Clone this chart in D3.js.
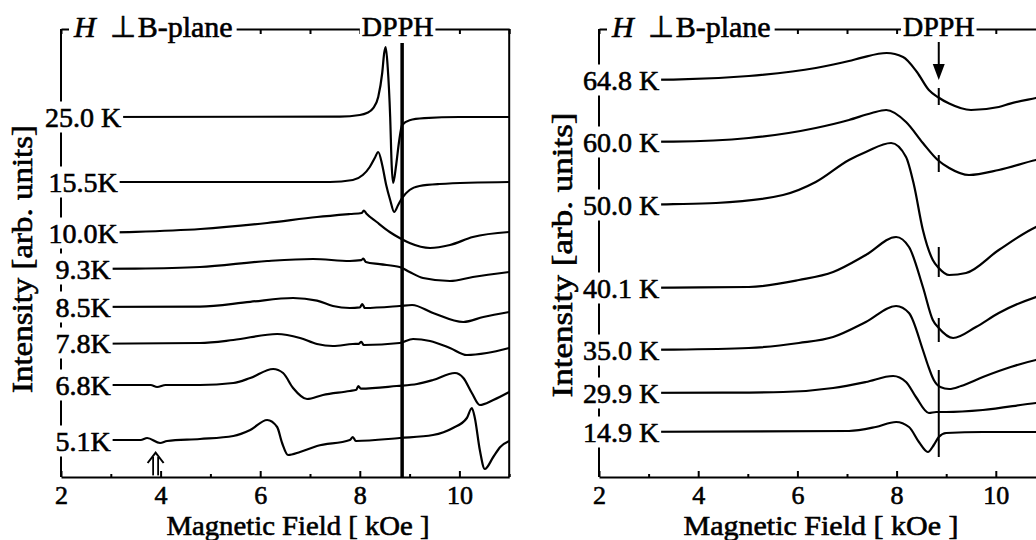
<!DOCTYPE html>
<html lang="en">
<head>
<meta charset="UTF-8">
<title>ESR spectra, H perpendicular to B-plane</title>
<script src="https://d3js.org/d3.v7.min.js"></script>
<style>
  body { margin: 0; background: #fff; }
  svg { display: block; }
  .trace { fill: none; stroke: #000; stroke-width: 2.2; stroke-linejoin: round; }
  .axis path, .axis line { stroke: #000; stroke-width: 2; }
  text { font-family: "Liberation Serif", "Times New Roman", serif; fill: #000; stroke: #000; stroke-width: 0.6; }
</style>
</head>
<body>
<svg width="1036" height="540"></svg>
<script>
// field axis (kOe)
const fieldDomain = [2, 11];
const fieldTicks = [2, 4, 6, 8, 10];
const dpphField = 8.85;

// left panel: temperatures, baseline levels (arb. units) and spectra [field, offset]
const leftTemps = ["25.0 K", "15.5K", "10.0K", "9.3K", "8.5K", "7.8K", "6.8K", "5.1K"];
const leftBaselines = [90, 73.75, 61, 52, 42.5, 33.5, 23, 9];

const s25_0 = [[2,0],[7.6,0.1],[8.0,0.5],[8.14,1],[8.27,2.2],[8.37,5],[8.45,11],[8.49,16],[8.52,17.5],[8.56,12.5],[8.61,0],[8.64,-12],[8.67,-16.5],[8.73,-12],[8.79,-6],[8.85,-2],[9.0,-0.8],[9.3,-0.3],[10,0],[11,0]];
const s15_5 = [[2,0],[7.4,0],[7.86,0.5],[8.06,1.75],[8.2,3.75],[8.3,6],[8.37,7.5],[8.45,4.25],[8.53,-0.75],[8.61,-4.5],[8.69,-7.5],[8.77,-5.75],[8.85,-4],[9.0,-2],[9.2,-1],[9.6,-0.5],[11,0]];
const s10_0 = [[2,0],[3.5,0.3],[4.8,1],[6.14,2.5],[7.14,4],[7.8,4.75],[8.04,5],[8.08,5.6],[8.13,4.9],[8.34,2.75],[8.6,0.25],[8.8,-1.25],[9.0,-2.5],[9.41,-3.75],[9.81,-3],[10.27,-1],[11,0.25]];
const s9_3 = [[2,0],[3.5,0.1],[4.79,0.5],[6.14,2],[7.06,2.5],[7.8,2],[8.03,2.2],[8.07,2.6],[8.12,1.75],[8.4,1.2],[8.8,0.5],[9.0,-0.75],[9.27,-2.25],[9.81,-3],[10.27,-2],[11,-0.75]];
const s8_5 = [[2,0],[4.79,0.1],[5.8,1.3],[6.66,2.25],[7.14,1.6],[7.46,0.25],[7.8,-0.25],[8.0,-0.1],[8.05,0.75],[8.1,-0.25],[8.8,0.25],[9.05,0.5],[9.47,-1.5],[10.08,-3.75],[10.48,-2.5],[11,-1.25]];
const s7_8 = [[2,-0.25],[4.79,0],[5.46,0.75],[6.34,2.25],[6.8,1.25],[7.14,-0.25],[7.46,-0.75],[7.86,-0.25],[7.98,-0.2],[8.03,0.3],[8.08,-0.5],[8.8,0],[9.07,1],[9.41,0.5],[9.81,-1.25],[10.15,-3],[10.55,-2.5],[11,-1.25]];
const s6_8 = [[2,0],[3.8,0],[3.93,-0.5],[4.1,0],[4.79,0],[5.46,0.5],[5.8,1.75],[6.26,4],[6.46,3],[6.66,-0.75],[6.94,-3.5],[7.26,-2.5],[7.8,-1.5],[7.93,-1.2],[7.97,-0.25],[8.02,-0.9],[8.74,-0.25],[9.15,0.25],[9.47,1.25],[9.91,3],[10.08,1.75],[10.25,-2],[10.41,-5],[10.68,-3.75],[11,-1.75]];
const s5_1 = [[2,0.25],[3.6,0.25],[3.73,0.75],[3.99,-0.5],[4.13,0],[4.79,0.5],[5.46,1.25],[5.8,2.75],[6.14,5.25],[6.34,3.5],[6.44,-0.5],[6.56,-3.5],[6.8,-2.75],[7.14,-1.25],[7.8,0.25],[7.86,1],[7.92,0],[8.8,0.75],[9.47,1.5],[9.87,3.25],[10.15,5.75],[10.25,8.25],[10.31,5.75],[10.41,-2.25],[10.51,-7],[10.68,-4],[10.82,-1.5],[11,0]];
const leftSpectra = [s25_0, s15_5, s10_0, s9_3, s8_5, s7_8, s6_8, s5_1];

// right panel
const rightTemps = ["64.8 K", "60.0 K", "50.0 K", "40.1 K", "35.0 K", "29.9 K", "14.9 K"];
const rightBaselines = [99.25, 83.75, 68, 47.25, 31.75, 21, 11.25];

const s64_8 = [[2,0],[3.5,0.1],[5.02,1],[6.37,3],[7.04,4.75],[7.3,5.6],[7.8,6.75],[8.13,5.75],[8.41,2],[8.65,-2.5],[8.83,-4.25],[9.06,-5.9],[9.5,-7.5],[10.06,-6.75],[10.29,-5.9],[10.81,-4.5],[11,-4]];
const s60_0 = [[2,0],[3.5,0.1],[5.02,1],[6.37,3.5],[7.04,5.5],[7.5,7.25],[7.79,8],[8.19,5],[8.53,-0.25],[8.83,-4.5],[9.06,-6.5],[9.46,-8.25],[10.06,-7],[10.81,-4.5],[11,-4]];
const s50_0 = [[2,0],[3.5,0.2],[4.36,0.5],[5.71,2.5],[6.37,5.75],[7.04,11.25],[7.38,13.25],[7.89,15.5],[8.19,12],[8.35,5],[8.53,-6.25],[8.73,-13.75],[8.85,-15.75],[9.06,-17.5],[9.4,-17],[10.06,-11.25],[10.81,-5.5],[11,-4.5]];
const s40_1 = [[2,0],[3.5,0.1],[5.02,0.25],[6.03,2],[6.72,4],[7.38,8.25],[7.99,12.75],[8.25,10.25],[8.53,0.25],[8.73,-8],[8.85,-10],[9.14,-12.5],[9.6,-9.75],[10.06,-6.25],[10.81,-2.25],[11,-1.5]];
const s35_0 = [[2,0],[3.5,0.1],[5.02,0.5],[6.03,1.75],[6.72,3.25],[7.38,7],[7.99,11],[8.25,9.25],[8.53,0],[8.63,-3.75],[8.75,-7.5],[8.88,-9.25],[9.06,-9.75],[9.3,-9],[9.74,-6.75],[10.3,-4.25],[10.81,-2.5],[11,-2]];
const s29_9 = [[2,0],[4.5,0.1],[5.71,0.25],[6.72,1.25],[7.38,2.75],[7.93,4.25],[8.19,2.75],[8.39,-1],[8.65,-5],[8.8,-4.75],[9.0,-4.75],[9.74,-4.25],[10.81,-2.5],[11,-2.25]];
const s14_9 = [[2,0],[7.04,0.25],[7.58,1.25],[7.99,2.5],[8.25,1.25],[8.45,-2.5],[8.63,-5],[8.75,-3.25],[8.85,-1.25],[9.0,-0.25],[9.74,0],[11,0]];
const rightSpectra = [s64_8, s60_0, s50_0, s40_1, s35_0, s29_9, s14_9];

// DPPH markers in the right panel: [top, bottom] in arb. units
const dpphMarks = [[97.25, 93], [80.5, 76.25], [57.5, 50], [39.75, 33.75], [26.75, 5]];
const dpphArrow = [108.75, 99.25];
// open arrow under the 5.1K trace
const lowFieldArrow = 3.9;

const svg = d3.select("svg");
const y = d3.scaleLinear().domain([0, 112]).range([477, 29]);

function drawPanel(p) {
  const x = d3.scaleLinear().domain(fieldDomain).range(p.xRange);
  const g = svg.append("g");
  const allTicks = d3.range(2, 12);

  // bottom axis, ticks inward
  const bottom = g.append("g").attr("class", "axis")
    .attr("transform", `translate(0,${y(0)})`)
    .call(d3.axisBottom(x).tickValues(allTicks).tickSize(-6).tickSizeOuter(0).tickPadding(9)
      .tickFormat(d => fieldTicks.includes(d) ? d : ""));
  bottom.attr("font-family", null).attr("font-size", null);
  bottom.selectAll(".tick text").attr("font-size", 26);
  bottom.selectAll(".tick line").filter(d => d % 2 === 1).attr("y2", -3);

  // top frame
  g.append("g").attr("class", "axis")
    .attr("transform", `translate(0,${y(112)})`)
    .call(d3.axisTop(x).tickValues(allTicks).tickSize(-5).tickSizeOuter(0).tickFormat(""));

  // left and right frame lines
  g.append("line").attr("x1", x(2)).attr("x2", x(2)).attr("y1", y(112)).attr("y2", y(0))
    .attr("stroke", "#000").attr("stroke-width", 2);
  g.append("line").attr("x1", x(11)).attr("x2", x(11)).attr("y1", y(112)).attr("y2", y(0))
    .attr("stroke", "#000").attr("stroke-width", 2);

  // spectra
  p.spectra.forEach((s, i) => {
    const line = d3.line()
      .x(d => x(d[0]))
      .y(d => y(p.baselines[i] + d[1]))
      .curve(d3.curveMonotoneX);
    g.append("path").attr("class", "trace").attr("d", line(s));
  });

  p.extra(g, x);

  // temperature labels with white backing (breaks the left axis)
  p.temps.forEach((t, i) => {
    const lab = g.append("g");
    const txt = lab.append("text")
      .attr("x", x(2) + 22).attr("y", y(p.baselines[i]) + 9.5)
      .attr("text-anchor", "middle").attr("font-size", 28).text(t);
    const b = txt.node().getBBox();
    lab.insert("rect", "text").attr("x", b.x - 2).attr("y", b.y).attr("width", b.width + 4)
      .attr("height", b.height).attr("fill", "#fff");
  });

  // legend on the top frame
  const leg = g.append("g");
  const lt = leg.append("text").attr("x", x(2) + 13).attr("y", 37).attr("font-size", 30);
  lt.append("tspan").attr("font-style", "italic").text("H");
  lt.append("tspan").attr("dx", 14).text("⊥");
  lt.append("tspan").attr("dx", 2).text("B-plane");
  const lb = lt.node().getBBox();
  leg.insert("rect", "text").attr("x", lb.x - 4).attr("y", lb.y).attr("width", lb.width + 8)
    .attr("height", lb.height).attr("fill", "#fff");

  const dl = g.append("g");
  const dt = dl.append("text").attr("x", x(p.dpphLabelField)).attr("y", 36)
    .attr("text-anchor", "middle").attr("font-size", 28).text("DPPH");
  const db = dt.node().getBBox();
  dl.insert("rect", "text").attr("x", db.x - 2).attr("y", db.y).attr("width", db.width + 4)
    .attr("height", db.height - 6).attr("fill", "#fff");

  // axis titles
  g.append("text").attr("x", p.titleX).attr("y", 535).attr("text-anchor", "middle")
    .attr("font-size", 28).attr("textLength", p.titleLen).attr("lengthAdjust", "spacingAndGlyphs")
    .text("Magnetic Field [ kOe ]");
  g.append("text").attr("transform", `translate(${p.yTitleX},${p.yTitleY}) rotate(-90)`)
    .attr("text-anchor", "middle").attr("font-size", 29)
    .attr("textLength", p.yTitleLen).attr("lengthAdjust", "spacingAndGlyphs")
    .text("Intensity [arb. units]");
}

drawPanel({
  xRange: [61, 509.2],
  temps: leftTemps, baselines: leftBaselines, spectra: leftSpectra,
  dpphLabelField: 8.76,
  titleX: 298, titleLen: 263,
  yTitleX: 32, yTitleY: 259, yTitleLen: 268,
  extra: (g, x) => {
    // DPPH reference line
    g.append("line").attr("x1", x(dpphField)).attr("x2", x(dpphField))
      .attr("y1", y(108.5)).attr("y2", y(0)).attr("stroke", "#000").attr("stroke-width", 3.5);
    // open double arrow
    const ax = x(lowFieldArrow);
    [-2.5, 2.5].forEach(dx => g.append("line").attr("x1", ax + dx).attr("x2", ax + dx)
      .attr("y1", y(5)).attr("y2", y(0.4)).attr("stroke", "#000").attr("stroke-width", 1.8));
    g.append("path").attr("d", `M${ax - 8},${y(3.5)} L${ax},${y(6.1)} L${ax + 8},${y(3.5)}`)
      .attr("fill", "none").attr("stroke", "#000").attr("stroke-width", 2);
  }
});

drawPanel({
  xRange: [599, 1045.4],
  temps: rightTemps, baselines: rightBaselines, spectra: rightSpectra,
  dpphLabelField: 8.85,
  titleX: 821, titleLen: 275,
  yTitleX: 572, yTitleY: 255, yTitleLen: 285,
  extra: (g, x) => {
    const dx = x(dpphField);
    dpphMarks.forEach(m => g.append("line").attr("x1", dx).attr("x2", dx)
      .attr("y1", y(m[0])).attr("y2", y(m[1])).attr("stroke", "#000").attr("stroke-width", 2));
    g.append("line").attr("x1", dx).attr("x2", dx).attr("y1", y(dpphArrow[0])).attr("y2", y(dpphArrow[1] + 3))
      .attr("stroke", "#000").attr("stroke-width", 2);
    g.append("path")
      .attr("d", `M${dx - 6},${y(dpphArrow[1] + 4)} L${dx + 6},${y(dpphArrow[1] + 4)} L${dx},${y(dpphArrow[1])} Z`)
      .attr("fill", "#000");
  }
});
</script>
</body>
</html>
